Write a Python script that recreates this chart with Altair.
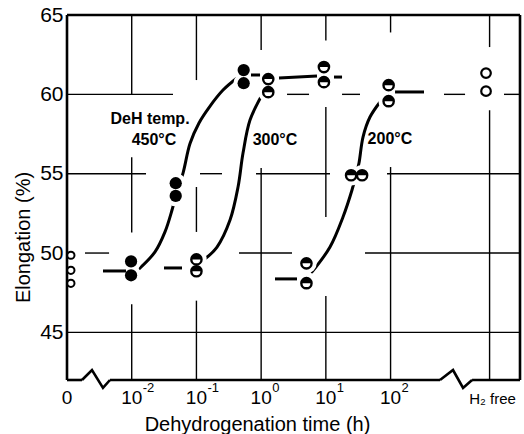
import altair as alt
import pandas as pd

FONT = "Liberation Sans"

# x is log10(time / h); "0 h" is drawn at -3 and "H2 free" at 3.53
X_ZERO = -3.0
X_H2 = 3.53

# ---- measured points ----
p450_x = [-2.01, -2.01, -1.32, -1.32, -0.27, -0.27]
p450_y = [49.47, 48.6, 54.4, 53.6, 61.53, 60.7]

p300_x = [-1.0, -1.0, 0.11, 0.11, 0.97, 0.97]
p300_y = [49.6, 48.85, 60.96, 60.14, 61.72, 60.77]

p200_x = [0.70, 0.70, 1.39, 1.56, 1.97, 1.97]
p200_y = [49.35, 48.1, 54.9, 54.9, 60.58, 59.57]

p0_x = [-2.94, -2.94, -2.94]
p0_y = [49.86, 48.91, 48.09]

pH2_x = [3.475, 3.475]
pH2_y = [61.34, 60.2]

# ---- hand-drawn fit curves ----
c450_x = [-1.887, -1.640, -1.486, -1.377, -1.300, -1.207, -1.099, -0.960, -0.800, -0.589, -0.373]
c450_y = [49.0, 50.07, 51.33, 52.71, 53.9, 55.04, 56.9, 58.2, 59.2, 60.27, 61.03]
c300_x = [-0.867, -0.682, -0.481, -0.357, -0.280, -0.172, 0.013]
c300_y = [49.63, 50.38, 52.08, 54.16, 56.30, 58.38, 59.96]
c200_x = [0.786, 1.064, 1.265, 1.404, 1.466, 1.512, 1.574, 1.682, 1.837]
c200_y = [48.81, 50.38, 52.27, 53.97, 54.92, 55.67, 57.31, 58.57, 59.52]

# plateau dashes (x1, x2, y1, y2)
seg_x1 = [-2.444, -0.157, -1.501, 0.276, 1.126, 0.214, 2.069]
seg_x2 = [-2.088, -0.017, -1.223, 0.863, 1.250, 0.554, 2.517]
seg_y1 = [48.87, 61.22, 49.06, 61.03, 61.09, 48.37, 60.15]
seg_y2 = [48.87, 61.22, 49.06, 61.16, 61.09, 48.37, 60.15]

# ---- broken grid of the original figure ----
hg_y = [60, 60, 60, 60, 60, 55, 55, 55, 55, 50, 50, 50, 45]
hg_x1 = [-3.0, 0.40, 1.25, 2.826, 3.753, -3.0, -0.945, -0.079, 1.945, -2.722, -0.342, 1.605, -3.0]
hg_x2 = [-1.362, 0.74, 1.528, 3.151, 4.0, -1.779, -0.605, 1.064, 4.0, -2.35, 0.477, 4.0, 4.0]

vg_x = [-2, -2, -2, -1, -1, -1, 0, 0, 1, 1, 1, 2, 2, X_H2, X_H2]
vg_y1 = [65, 56.04, 46.77, 65, 54.16, 47.0, 65, 55.36, 65, 59.2, 47.3, 65, 55.42, 65, 59.0]
vg_y2 = [60.0, 51.3, 42, 60.9, 51.33, 42, 62.8, 42, 63.4, 52.27, 42, 63.9, 42, 62.98, 42]

# frame (bottom is broken by the two axis breaks)
fr_x1 = [-3.0, -3.0, 4.0, -3.0, -2.336, 3.259]
fr_x2 = [-3.0, 4.0, 4.0, -2.768, 2.764, 4.0]
fr_y1 = [42, 65, 42, 42, 42, 42]
fr_y2 = [65, 65, 65, 42, 42, 42]

zig_g = [1, 1, 1, 1, 2, 2, 2, 2]
zig_x = [-2.768, -2.614, -2.444, -2.336, 2.764, 2.965, 3.120, 3.259]
zig_y = [42.0, 42.63, 41.5, 42.0, 42.0, 42.63, 41.5, 42.0]

# tick labels of the x axis
tick_pos = [-3, -2, -1, 0, 1, 2]
tick_base = ["0", "10", "10", "10", "10", "10"]
tick_exp = ["", "-2", "-1", "0", "1", "2"]

# annotations
ann_text = ["DeH temp.", "450°C", "300°C", "200°C"]
ann_x = [-1.717, -1.656, 0.214, 1.99]
ann_y = [58.45, 57.12, 57.12, 57.19]

# ---------------------------------------------------------------
xs = alt.Scale(domain=[-3, 4], nice=False, zero=False)
ys = alt.Scale(domain=[42, 65], nice=False, zero=False)

x_axis = alt.Axis(
    labels=False, ticks=False, domain=False, grid=False,
    title="Dehydrogenation time (h)", titleFontSize=20, titleFont=FONT,
    titleFontWeight="normal", titleColor="black",
    titleX=190, titleY=44, titleBaseline="middle", titleAlign="center",
)
y_axis = alt.Axis(
    values=[45, 50, 55, 60, 65], labelFontSize=21, labelFont=FONT,
    labelColor="black", labelPadding=4, labelBaseline="middle",
    ticks=False, domain=False, grid=False,
    title="Elongation (%)", titleFontSize=20, titleFont=FONT,
    titleFontWeight="normal", titleColor="black",
    titleX=-44, titleY=222, titleAlign="center", titleBaseline="middle",
)

X = alt.X("x:Q", scale=xs, axis=x_axis)
Y = alt.Y("y:Q", scale=ys, axis=y_axis)

def df(**kw):
    return pd.DataFrame(kw)

hgrid = alt.Chart(df(x=hg_x1, x2=hg_x2, y=hg_y)).mark_rule(
    color="black", strokeWidth=1.4
).encode(x=X, x2="x2:Q", y=Y)

vgrid = alt.Chart(df(x=vg_x, y=vg_y1, y2=vg_y2)).mark_rule(
    color="black", strokeWidth=1.4
).encode(x=X, y=Y, y2="y2:Q")

frame = alt.Chart(df(x=fr_x1, x2=fr_x2, y=fr_y1, y2=fr_y2)).mark_rule(
    color="black", strokeWidth=2.6
).encode(x=X, x2="x2:Q", y=Y, y2="y2:Q")

zig = alt.Chart(df(g=zig_g, x=zig_x, y=zig_y)).mark_line(
    color="black", strokeWidth=2.6, strokeJoin="miter"
).encode(x=X, y=Y, detail="g:N", order=alt.Order("x:Q"))

curves_df = pd.concat([
    df(g="450", x=c450_x, y=c450_y),
    df(g="300", x=c300_x, y=c300_y),
    df(g="200", x=c200_x, y=c200_y),
])
curves = alt.Chart(curves_df).mark_line(
    color="black", strokeWidth=3, interpolate="catmull-rom", strokeCap="round"
).encode(x=X, y=Y, detail="g:N", order=alt.Order("x:Q"))

all_pts = pd.concat([
    df(x=p450_x, y=p450_y),
    df(x=p300_x, y=p300_y),
    df(x=p200_x, y=p200_y),
])
halo = alt.Chart(all_pts).mark_point(
    shape="circle", filled=True, color="white", size=420, opacity=1
).encode(x=X, y=Y)

segs = alt.Chart(df(x=seg_x1, x2=seg_x2, y=seg_y1, y2=seg_y2)).mark_rule(
    color="black", strokeWidth=3
).encode(x=X, x2="x2:Q", y=Y, y2="y2:Q")

filled = alt.Chart(df(x=p450_x, y=p450_y)).mark_point(
    shape="circle", filled=True, color="black", size=150, opacity=1
).encode(x=X, y=Y)

half_df = pd.concat([df(x=p300_x, y=p300_y), df(x=p200_x, y=p200_y)])
ring = alt.Chart(half_df).mark_point(
    shape="circle", filled=True, fill="white", stroke="black",
    strokeWidth=2.4, size=105, opacity=1
).encode(x=X, y=Y)
half = alt.Chart(half_df).mark_point(
    shape="M-1,0 A1,1 0 0,1 1,0 Z", filled=True, color="black",
    size=105, opacity=1
).encode(x=X, y=Y)

open0 = alt.Chart(df(x=p0_x, y=p0_y)).mark_point(
    shape="circle", filled=True, fill="white", stroke="black",
    strokeWidth=2, size=52, opacity=1
).encode(x=X, y=Y)
openH = alt.Chart(df(x=pH2_x, y=pH2_y)).mark_point(
    shape="circle", filled=True, fill="white", stroke="black",
    strokeWidth=2.2, size=92, opacity=1
).encode(x=X, y=Y)

tick_df = df(x=tick_pos, base=tick_base, exp=tick_exp)
tbase = alt.Chart(tick_df).mark_text(
    font=FONT, fontSize=19, color="black", align="center",
    baseline="alphabetic", dy=24
).encode(x=X, y=alt.datum(42), text="base:N")
texp = alt.Chart(tick_df).mark_text(
    font=FONT, fontSize=13, color="black", align="left",
    baseline="alphabetic", dx=11, dy=12
).encode(x=X, y=alt.datum(42), text="exp:N")
th2 = alt.Chart(df(x=[X_H2], t=["H₂ free"])).mark_text(
    font=FONT, fontSize=15, color="black", align="center",
    baseline="alphabetic", dx=3, dy=24
).encode(x=X, y=alt.datum(42), text="t:N")

ann = alt.Chart(df(x=ann_x, y=ann_y, t=ann_text)).mark_text(
    font=FONT, fontSize=16, fontWeight="bold", color="black",
    align="center", baseline="middle"
).encode(x=X, y=Y, text="t:N")

chart = alt.layer(
    hgrid, vgrid, curves, halo, segs, frame, zig,
    filled, ring, half, open0, openH, tbase, texp, th2, ann
).properties(
    width=453, height=365,
    padding={"left": 67, "top": 15, "right": 4, "bottom": 54},
    autosize="none", background="white",
).configure_view(stroke=None)

chart.save("out.html", embed_options={"renderer": "svg", "actions": False})
